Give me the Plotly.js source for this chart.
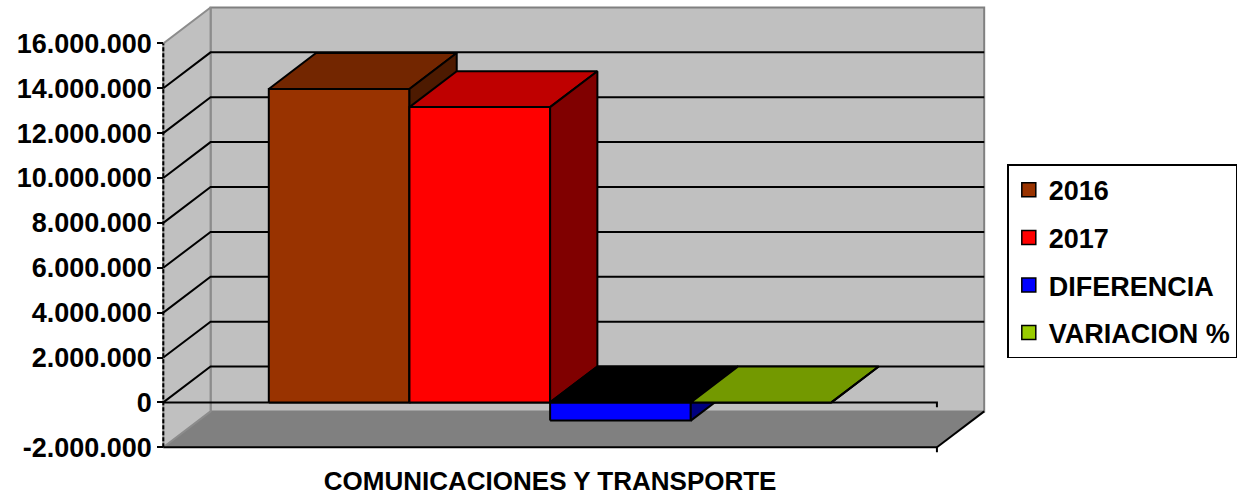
<!DOCTYPE html>
<html>
<head>
<meta charset="utf-8">
<script src="https://cdn.plot.ly/plotly-3.0.1.min.js"></script>
<style>
  html, body { margin: 0; padding: 0; background: #ffffff; }
  #chart { width: 1241px; height: 497px; }
</style>
</head>
<body>
<div id="chart"></div>
<script>
// ---------------- DATA ----------------
const categoria = 'COMUNICACIONES Y TRANSPORTE';
const series = ['2016', '2017', 'DIFERENCIA', 'VARIACION %'];
const valores = [13970000, 13160000, -810000, -5.8];
const yTickVals = [-2000000, 0, 2000000, 4000000, 6000000, 8000000, 10000000, 12000000, 14000000, 16000000];
const yTickText = ['-2.000.000', '0', '2.000.000', '4.000.000', '6.000.000', '8.000.000', '10.000.000', '12.000.000', '14.000.000', '16.000.000'];

// ---------------- STYLE ----------------
const legendColors = ['#993300', '#FF0000', '#0000FF', '#99CC00'];
const frontColors  = ['#993300', '#FF0000', '#0000FF', '#99CC00'];
const topColors    = ['#732600', '#BF0000', '#000000', '#739900'];
const sideColors   = ['#4D1A00', '#800000', '#000080', '#4D6600'];
const FONT = 'Liberation Sans, Arial, sans-serif';

// 3D geometry (category units / value units)
const GAP = 0.75;          // half of a 150% gap width
const BAR_W = 1;
const CAT_W = 2 * GAP + series.length * BAR_W;
const DX = 0.336;          // depth offset along x
const DY = 1600000;        // depth offset along y
const Y_MIN = yTickVals[0];
const Y_MAX = yTickVals[yTickVals.length - 1];
const TICK_V = 220000;     // small category tick length (value units)

const traces = [];
function poly(xs, ys, fill, lineColor, lineWidth) {
  traces.push({
    type: 'scatter', mode: 'lines', x: xs.concat([xs[0]]), y: ys.concat([ys[0]]),
    fill: 'toself', fillcolor: fill,
    line: { color: lineColor, width: lineWidth, dash: 'solid' },
    hoverinfo: 'skip', showlegend: false
  });
}
function path(xs, ys, color, width, dash) {
  traces.push({
    type: 'scatter', mode: 'lines', x: xs, y: ys,
    line: { color: color, width: width, dash: dash || 'solid' },
    hoverinfo: 'skip', showlegend: false
  });
}

// back wall
poly([DX, CAT_W + DX, CAT_W + DX, DX], [Y_MIN + DY, Y_MIN + DY, Y_MAX + DY, Y_MAX + DY], '#C0C0C0', '#808080', 2);
// floor
poly([0, CAT_W, CAT_W + DX, DX], [Y_MIN, Y_MIN, Y_MIN + DY, Y_MIN + DY], '#808080', 'rgba(0,0,0,0)', 0);
// left wall
poly([0, DX, DX, 0], [Y_MIN, Y_MIN + DY, Y_MAX + DY, Y_MAX], '#C0C0C0', '#8C8C8C', 2);

// gridlines (left wall diagonals + back wall)
(function () {
  const gx = [], gy = [];
  yTickVals.forEach(v => {
    if (v <= Y_MIN || v >= Y_MAX) return;
    gx.push(0, DX, CAT_W + DX, null);
    gy.push(v, v + DY, v + DY, null);
  });
  path(gx, gy, '#000000', 2);
})();

// floor front & right edges
path([0, CAT_W, CAT_W, null, CAT_W, CAT_W + DX], [Y_MIN, Y_MIN, Y_MIN - TICK_V, null, Y_MIN, Y_MIN + DY], '#000000', 2);
// value axis (dashed)
path([0, 0], [Y_MIN, Y_MAX], '#000000', 2, '4px,2px');
// category axis at zero
path([0, CAT_W, CAT_W], [0, 0, -TICK_V], '#000000', 2);

// 3D bars
valores.forEach((v, i) => {
  const x0 = GAP + i * BAR_W, x1 = x0 + BAR_W;
  const hi = Math.max(v, 0), lo = Math.min(v, 0);
  poly([x0, x1, x1, x0], [lo, lo, hi, hi], frontColors[i], '#000000', 2);
  poly([x0, x1, x1 + DX, x0 + DX], [hi, hi, hi + DY, hi + DY], topColors[i], '#000000', 2);
  poly([x1, x1 + DX, x1 + DX, x1], [lo, lo + DY, hi + DY, hi], sideColors[i], '#000000', 2);
});

// legend entries
series.forEach((s, i) => {
  traces.push({
    type: 'scatter', mode: 'markers', x: [null], y: [null], name: s, legendgroup: 'g' + i,
    marker: { symbol: 'square', size: 14, color: legendColors[i], line: { color: '#000000', width: 1.5 } },
    showlegend: true, hoverinfo: 'skip'
  });
});

const layout = {
  width: 1241, height: 497,
  margin: { l: 156, r: 249, t: 2, b: 43, pad: 0 },
  paper_bgcolor: '#ffffff', plot_bgcolor: 'rgba(0,0,0,0)',
  hovermode: false,
  showlegend: true,
  xaxis: {
    range: [-0.0519, CAT_W + DX + 0.0555],
    showgrid: false, zeroline: false, showline: false,
    tickvals: [CAT_W / 2], ticktext: [categoria], ticks: '',
    tickfont: { family: FONT, size: 26, color: '#000000', weight: 'bold' },
    ticklabelstandoff: 9,
    fixedrange: true
  },
  yaxis: {
    range: [-2298600, 17844000],
    anchor: 'free', position: 0.0519 / (CAT_W + DX + 0.0555 + 0.0519),
    showgrid: false, zeroline: false, showline: false,
    tickvals: yTickVals, ticktext: yTickText,
    ticks: 'outside', ticklen: 6, tickwidth: 2, tickcolor: '#000000',
    tickfont: { family: FONT, size: 27, color: '#000000', weight: 'bold' },
    fixedrange: true
  },
  legend: {
    x: 1.0183, y: 0.641, xanchor: 'left', yanchor: 'top',
    font: { family: FONT, size: 27, color: '#000000', weight: 'bold' },
    bgcolor: '#ffffff', bordercolor: '#000000', borderwidth: 1.5,
    tracegroupgap: 9.5, itemwidth: 30
  }
};

Plotly.newPlot('chart', traces, layout, { staticPlot: true, displayModeBar: false });
</script>
</body>
</html>
